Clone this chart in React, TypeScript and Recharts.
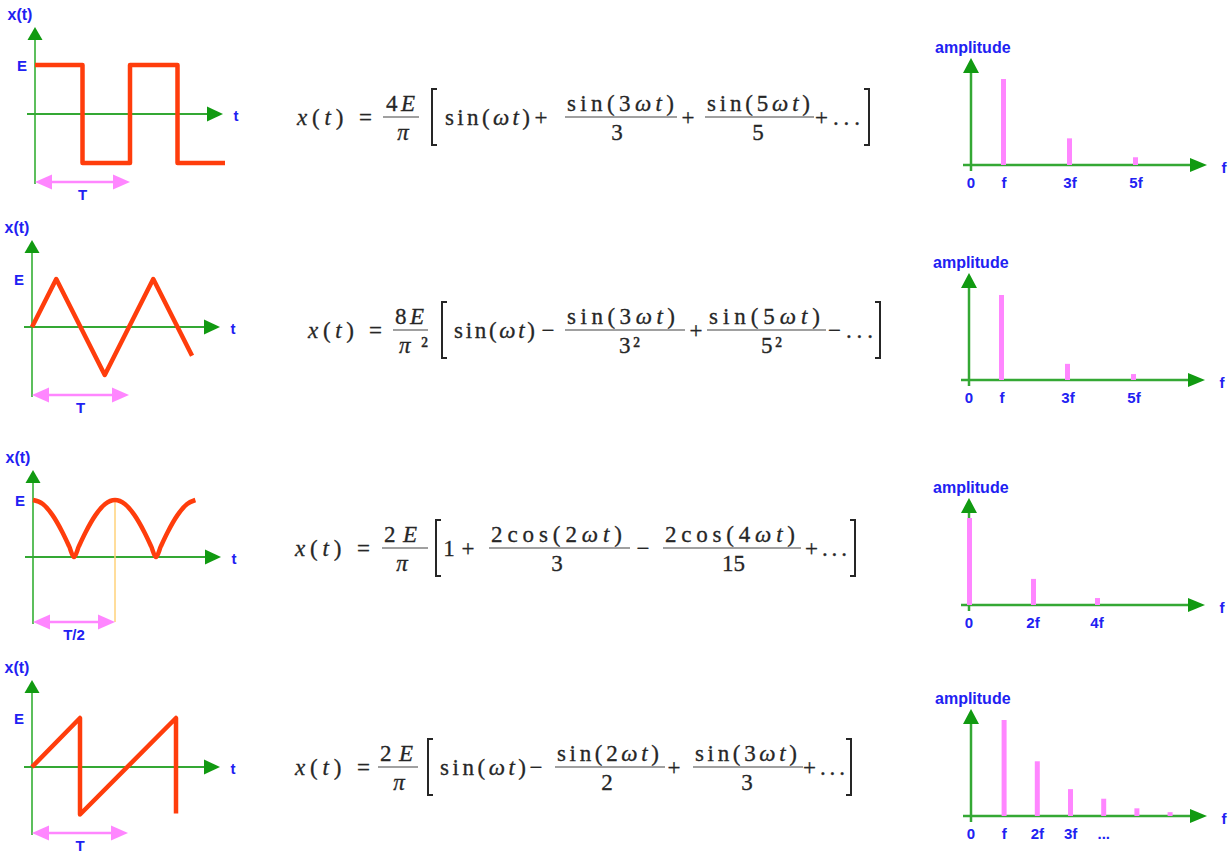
import React from "react";
import { Bar, BarChart, Line, LineChart, ReferenceDot, ReferenceLine, XAxis, YAxis } from "recharts";

// waveforms: time in periods T, value in units of E
const squareT = [0, 0.5, 0.5, 1, 1, 1.5, 1.5, 2];
const squareX = [1, 1, -1, -1, 1, 1, -1, -1];
const triangleT = [0, 0.25, 0.75, 1.25, 1.65];
const triangleX = [0, 1, -1, 1, -0.6];
const rectifiedT = [0, 0.06, 0.12, 0.18, 0.22, 0.25, 0.28, 0.32, 0.38, 0.44, 0.5, 0.56, 0.62, 0.68, 0.72, 0.75, 0.78, 0.82, 0.88, 0.94, 0.99];
const rectifiedX = [1, 0.93, 0.73, 0.43, 0.19, 0, 0.19, 0.43, 0.73, 0.93, 1, 0.93, 0.73, 0.43, 0.19, 0, 0.19, 0.43, 0.73, 0.93, 1];
const sawtoothT = [0, 0.5, 0.5, 1.5, 1.5];
const sawtoothX = [0, 1, -0.97, 1, -0.95];

// spectra: harmonic (multiple of f) and relative amplitude
const squareHarm = [1, 3, 5];
const squareAmp = [1, 0.31, 0.09];
const triangleHarm = [1, 3, 5];
const triangleAmp = [1, 0.19, 0.07];
const rectifiedHarm = [0, 2, 4];
const rectifiedAmp = [1, 0.3, 0.08];
const sawtoothHarm = [1, 2, 3, 4, 5, 6];
const sawtoothAmp = [1, 0.57, 0.28, 0.18, 0.08, 0.04];

const oddTicks = [0, 1, 3, 5];
const oddLabels = ["0", "f", "3f", "5f"];
const evenTicks = [0, 2, 4];
const evenLabels = ["0", "2f", "4f"];
const sawTicks = [0, 1, 2, 3, 4];
const sawLabels = ["0", "f", "2f", "3f", "..."];

const BLUE = "#2121f2";
const GREEN = "#34a834";
const GREEN_LIGHT = "#5cbf5c";
const GREEN_DARK = "#119a11";
const RED = "#ff3d0c";
const PINK = "#ff86ff";
const INK = "#262626";
const labelFont = { fontFamily: "'Liberation Sans', Arial, sans-serif", fontWeight: 700, fontSize: 15 };

const upHead = (color: string, w: number, h: number) => (p: any) => (
  <polygon points={`${p.cx},${p.cy} ${p.cx - w / 2},${p.cy + h} ${p.cx + w / 2},${p.cy + h}`} fill={color} />
);
const rightHead = (color: string, w: number, h: number) => (p: any) => (
  <polygon points={`${p.cx},${p.cy} ${p.cx - w},${p.cy - h / 2} ${p.cx - w},${p.cy + h / 2}`} fill={color} />
);
const leftHead = (color: string, w: number, h: number) => (p: any) => (
  <polygon points={`${p.cx},${p.cy} ${p.cx + w},${p.cy - h / 2} ${p.cx + w},${p.cy + h / 2}`} fill={color} />
);
const label = (text: string, dx: number, dy: number, anchor = "middle", size = 15) => (p: any) => (
  <text
    x={p.cx + dx}
    y={p.cy + dy}
    textAnchor={anchor}
    dominantBaseline="central"
    fill={BLUE}
    style={{ ...labelFont, fontSize: size }}
  >
    {text}
  </text>
);

function WaveChart(props: {
  t: number[];
  x: number[];
  ox: number;
  oy: number;
  tPx: number;
  ePx: number;
  arrowOff: number;
  period: number;
  periodLabel: string;
  marker?: boolean;
  smooth?: boolean;
}) {
  const { t, x, ox, oy, tPx, ePx, arrowOff, period, periodLabel, marker, smooth } = props;
  const W = 250;
  const H = 200;
  const top = 112;
  const dt = (px: number) => px / tPx;
  const dv = (px: number) => px / ePx;
  const data = t.map((v, i) => ({ t: v, x: x[i] }));
  return (
    <div style={{ position: "absolute", left: 0, top: oy - top }}>
      <LineChart width={W} height={H} data={data} margin={{ top: 0, right: 0, bottom: 0, left: 0 }}>
        <XAxis dataKey="t" type="number" domain={[-ox / tPx, (W - ox) / tPx]} allowDataOverflow hide />
        <YAxis type="number" domain={[-(H - top) / ePx, top / ePx]} allowDataOverflow hide />
        <ReferenceLine segment={[{ x: 0, y: dv(-arrowOff - 2) }, { x: 0, y: dv(76) }]} stroke={GREEN_LIGHT} strokeWidth={2} zIndex={100} />
        <ReferenceLine segment={[{ x: dt(-8), y: 0 }, { x: dt(174), y: 0 }]} stroke={GREEN} strokeWidth={2} zIndex={100} />
        <ReferenceDot x={0} y={dv(87)} shape={upHead(GREEN_DARK, 15, 13)} />
        <ReferenceDot x={dt(188)} y={0} shape={rightHead(GREEN_DARK, 16, 15)} />
        <ReferenceDot x={0} y={dv(87)} shape={label("x(t)", -15, -13, "middle", 16)} />
        <ReferenceDot x={0} y={1} shape={label("E", -13, 0)} />
        <ReferenceDot x={dt(188)} y={0} shape={label("t", 13, 1)} />
        {marker && (
          <ReferenceLine
            segment={[{ x: period, y: 1 }, { x: period, y: dv(-arrowOff) }]}
            stroke="#ffd27a"
            strokeWidth={1.5}
            zIndex={100}
          />
        )}
        <ReferenceLine
          segment={[{ x: dt(6), y: dv(-arrowOff) }, { x: period - dt(6), y: dv(-arrowOff) }]}
          stroke={PINK}
          strokeWidth={2.5}
        />
        <ReferenceDot x={0} y={dv(-arrowOff)} shape={leftHead(PINK, 17, 15)} />
        <ReferenceDot x={period} y={dv(-arrowOff)} shape={rightHead(PINK, 17, 15)} />
        <ReferenceDot x={period / 2} y={dv(-arrowOff)} shape={label(periodLabel, 0, 12)} />
        <Line
          dataKey="x"
          type={smooth ? "monotone" : "linear"}
          stroke={RED}
          strokeWidth={4.5}
          strokeLinejoin="round"
          dot={false}
          isAnimationActive={false}
        />
      </LineChart>
    </div>
  );
}

function SpectrumChart(props: {
  harm: number[];
  amp: number[];
  ticks: number[];
  labels: string[];
  ox: number;
  oy: number;
  fPx: number;
  aPx: number;
}) {
  const { harm, amp, ticks, labels, ox, oy, fPx, aPx } = props;
  const left = ox - 40;
  const W = 1229 - left;
  const H = 155;
  const top = 130;
  const dt = (px: number) => px / fPx;
  const dv = (px: number) => px / aPx;
  const data = harm.map((h, i) => ({ h, amp: amp[i] }));
  return (
    <div style={{ position: "absolute", left, top: oy - top }}>
      <BarChart width={W} height={H} data={data} margin={{ top: 0, right: 0, bottom: 0, left: 0 }}>
        <XAxis dataKey="h" type="number" domain={[-40 / fPx, (W - 40) / fPx]} allowDataOverflow hide />
        <YAxis type="number" domain={[-(H - top) / aPx, top / aPx]} allowDataOverflow hide />
        <ReferenceLine segment={[{ x: 0, y: dv(-6) }, { x: 0, y: dv(95) }]} stroke={GREEN} strokeWidth={2.5} zIndex={100} />
        <ReferenceLine segment={[{ x: dt(-8), y: 0 }, { x: dt(222), y: 0 }]} stroke={GREEN} strokeWidth={2.5} zIndex={100} />
        <ReferenceDot x={0} y={dv(107)} shape={upHead(GREEN_DARK, 16, 15)} />
        <ReferenceDot x={dt(236)} y={0} shape={rightHead(GREEN_DARK, 17, 14)} />
        <ReferenceDot x={0} y={dv(107)} shape={label("amplitude", -36, -11, "start", 16)} />
        <ReferenceDot x={dt(236)} y={0} shape={label("f", 17, 2)} />
        {ticks.map((tk, i) => (
          <ReferenceDot key={tk} x={tk} y={0} shape={label(labels[i], 0, 17)} />
        ))}
        <Bar dataKey="amp" fill={PINK} barSize={5} isAnimationActive={false} zIndex={300} />
      </BarChart>
    </div>
  );
}

// formula layout: [kind, content, x1, x2, level] ; level 1 numerator, 0 main line, -1 denominator
type Part = [string, string, number, number, number];

const formula1: Part[] = [
  ["t", "x(t) =", 297, 372, 0],
  ["t", "4E", 386, 415, 1],
  ["bar", "", 383, 419, 0],
  ["t", "π", 403, 0, -1],
  ["[", "", 432, 0, 0],
  ["t", "sin(ωt)", 445, 530, 0],
  ["t", "+", 541, 0, 0],
  ["t", "sin(3ωt)", 567, 674, 1],
  ["bar", "", 565, 677, 0],
  ["t", "3", 617, 0, -1],
  ["t", "+", 688, 0, 0],
  ["t", "sin(5ωt)", 707, 810, 1],
  ["bar", "", 705, 814, 0],
  ["t", "5", 758, 0, -1],
  ["t", "+...", 815, 860, 0],
  ["]", "", 869, 0, 0],
];
const formula2: Part[] = [
  ["t", "x(t) =", 308, 382, 0],
  ["t", "8E", 395, 424, 1],
  ["bar", "", 393, 428, 0],
  ["t", "π ²", 399, 428, -1],
  ["[", "", 442, 0, 0],
  ["t", "sin(ωt)", 454, 535, 0],
  ["t", "−", 548, 0, 0],
  ["t", "sin(3ωt)", 567, 675, 1],
  ["bar", "", 565, 685, 0],
  ["t", "3 ²", 619, 640, -1],
  ["t", "+", 696, 0, 0],
  ["t", "sin(5ωt)", 709, 820, 1],
  ["bar", "", 707, 826, 0],
  ["t", "5 ²", 761, 782, -1],
  ["t", "−...", 828, 873, 0],
  ["]", "", 880, 0, 0],
];
const formula3: Part[] = [
  ["t", "x(t) =", 295, 370, 0],
  ["t", "2E", 384, 417, 1],
  ["bar", "", 382, 428, 0],
  ["t", "π", 402, 0, -1],
  ["[", "", 436, 0, 0],
  ["t", "1", 449, 0, 0],
  ["t", "+", 468, 0, 0],
  ["t", "2cos(2ωt)", 491, 622, 1],
  ["bar", "", 489, 630, 0],
  ["t", "3", 557, 0, -1],
  ["t", "−", 643, 0, 0],
  ["t", "2cos(4ωt)", 665, 795, 1],
  ["bar", "", 663, 801, 0],
  ["t", "15", 722, 745, -1],
  ["t", "+...", 805, 847, 0],
  ["]", "", 855, 0, 0],
];
const formula4: Part[] = [
  ["t", "x(t) =", 295, 370, 0],
  ["t", "2E", 380, 413, 1],
  ["bar", "", 378, 418, 0],
  ["t", "π", 399, 0, -1],
  ["[", "", 428, 0, 0],
  ["t", "sin(ωt)", 440, 526, 0],
  ["t", "−", 536, 0, 0],
  ["t", "sin(2ωt)", 557, 659, 1],
  ["bar", "", 555, 665, 0],
  ["t", "2", 607, 0, -1],
  ["t", "+", 674, 0, 0],
  ["t", "sin(3ωt)", 695, 797, 1],
  ["bar", "", 693, 803, 0],
  ["t", "3", 747, 0, -1],
  ["t", "+...", 803, 845, 0],
  ["]", "", 851, 0, 0],
];

const ITALIC = "xtEπω";

function runs(s: string) {
  const out: { s: string; it: boolean }[] = [];
  for (const ch of s) {
    const it = ITALIC.includes(ch);
    const last = out[out.length - 1];
    if (last && last.it === it) last.s += ch;
    else out.push({ s: ch, it });
  }
  return out.map((r, i) => (
    <tspan key={i} fontStyle={r.it ? "italic" : "normal"}>
      {r.s}
    </tspan>
  ));
}

function Formula({ parts, yc }: { parts: Part[]; yc: number }) {
  return (
    <g>
      {parts.map(([kind, s, x1, x2, level], i) => {
        if (kind === "bar") return <line key={i} x1={x1} x2={x2} y1={yc} y2={yc} stroke="#808080" strokeWidth={1.4} />;
        if (kind === "[" || kind === "]") {
          const d = kind === "[" ? 5 : -5;
          return (
            <path key={i} d={`M${x1 + d},${yc - 28} H${x1} V${yc + 28} H${x1 + d}`} fill="none" stroke={INK} strokeWidth={2} />
          );
        }
        const y = yc + (level === 1 ? -14 : level === -1 ? 15 : 0);
        return (
          <text
            key={i}
            x={x1}
            y={y}
            textAnchor={x2 ? "start" : "middle"}
            textLength={x2 ? x2 - x1 : undefined}
            lengthAdjust="spacing"
            dominantBaseline="central"
            fill={INK}
            stroke={INK}
            strokeWidth={0.3}
            style={{ fontFamily: "'Liberation Serif', 'Times New Roman', serif", fontSize: 23 }}
          >
            {runs(s)}
          </text>
        );
      })}
    </g>
  );
}

export default function App() {
  return (
    <div style={{ position: "absolute", left: 0, top: 0, width: 1229, height: 853, overflow: "hidden", background: "#fff" }}>
      <WaveChart t={squareT} x={squareX} ox={35} oy={114} tPx={95} ePx={49} arrowOff={68} period={1} periodLabel="T" />
      <WaveChart t={triangleT} x={triangleX} ox={32} oy={327} tPx={97} ePx={48} arrowOff={68} period={1} periodLabel="T" />
      <WaveChart
        t={rectifiedT}
        x={rectifiedX}
        ox={33}
        oy={557}
        tPx={164}
        ePx={57}
        arrowOff={65}
        period={0.5}
        periodLabel="T/2"
        marker
        smooth
      />
      <WaveChart t={sawtoothT} x={sawtoothX} ox={32} oy={767} tPx={96} ePx={49} arrowOff={66} period={1} periodLabel="T" />

      <svg width={1229} height={853} style={{ position: "absolute", left: 0, top: 0, pointerEvents: "none" }}>
        <Formula parts={formula1} yc={117} />
        <Formula parts={formula2} yc={330} />
        <Formula parts={formula3} yc={548} />
        <Formula parts={formula4} yc={767} />
      </svg>

      <SpectrumChart harm={squareHarm} amp={squareAmp} ticks={oddTicks} labels={oddLabels} ox={971} oy={165} fPx={33} aPx={86} />
      <SpectrumChart harm={triangleHarm} amp={triangleAmp} ticks={oddTicks} labels={oddLabels} ox={969} oy={380} fPx={33} aPx={85} />
      <SpectrumChart harm={rectifiedHarm} amp={rectifiedAmp} ticks={evenTicks} labels={evenLabels} ox={969} oy={605} fPx={32} aPx={87} />
      <SpectrumChart harm={sawtoothHarm} amp={sawtoothAmp} ticks={sawTicks} labels={sawLabels} ox={971} oy={816} fPx={33.2} aPx={96} />
    </div>
  );
}
